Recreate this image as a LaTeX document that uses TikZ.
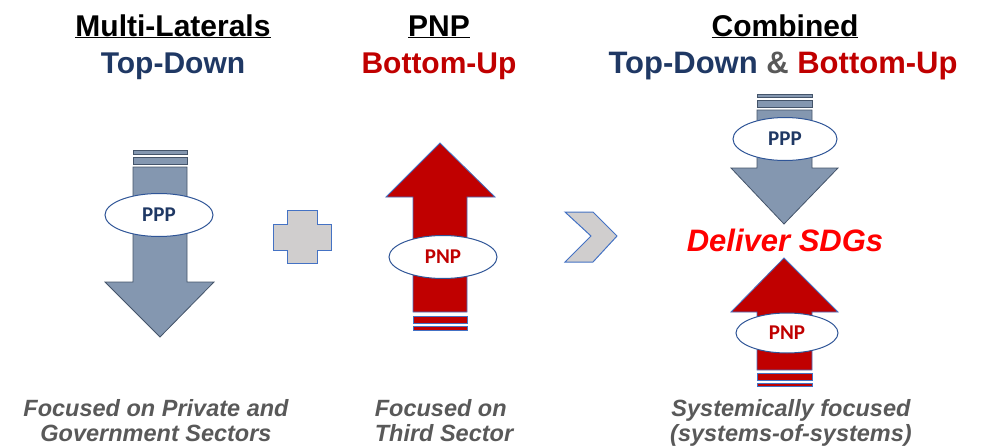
\documentclass[tikz,border=0pt]{standalone}
\usepackage{fontspec}
\setmainfont{Liberation Sans}
\newfontfamily\tagfont{Carlito}
\usetikzlibrary{shapes.geometric, positioning}
\definecolor{headblue}{RGB}{31, 56, 100}
\definecolor{headred}{RGB}{192, 0, 0}
\definecolor{arrowblue}{RGB}{132, 151, 176}
\definecolor{arrowblueline}{RGB}{68, 84, 106}
\definecolor{arrowred}{RGB}{192, 0, 0}
\definecolor{arrowredline}{RGB}{68, 114, 196}
\definecolor{tagline}{RGB}{47, 85, 151}
\definecolor{signgray}{RGB}{208, 206, 206}
\definecolor{notegray}{RGB}{89, 89, 89}
\definecolor{sdgred}{RGB}{255, 0, 0}
\begin{document}
\begin{tikzpicture}[x=1pt, y=-1pt,
  bluearrow/.style={fill=arrowblue, draw=arrowblueline, line width=0.8pt},
  redarrow/.style={fill=arrowred, draw=arrowredline, line width=0.8pt},
  signshape/.style={fill=signgray, draw=arrowredline, line width=1pt},
  tag/.style={ellipse, draw=tagline, fill=white, line width=1pt, minimum width=108pt, minimum height=43pt, inner sep=0pt, font=\tagfont\fontsize{21}{24}\selectfont\bfseries},
  head/.style={anchor=base, inner sep=0pt, font=\fontsize{30}{34}\selectfont\bfseries},
  note/.style={anchor=north, inner sep=0pt, text=notegray, font=\fontsize{23.5}{25}\selectfont\bfseries\itshape}]
\useasboundingbox (0,0) rectangle (986,447);

% headings
\node[head] (hml) at (173,36) {\underline{Multi-Laterals}};
\node[head, text=headblue] (hmltd) at (173,73) {Top-Down};
\node[head] (hpnp) at (439,36) {\underline{PNP}};
\node[head, text=headred] (hpnpbu) at (439,73) {Bottom-Up};
\node[head] (hcomb) at (785,36) {\underline{Combined}};
\node[head, font=\fontsize{31}{34}\selectfont\bfseries] (hcombtb) at (783,73) {\textcolor{headblue}{Top-Down} \textcolor{notegray}{\&} \textcolor{headred}{Bottom-Up}};

% top-down arrow (multi-laterals)
\draw[bluearrow] (133,150) rectangle (187,154);
\draw[bluearrow] (133,157) rectangle (187,164);
\draw[bluearrow] (133,167) -- (187,167) -- (187,282) -- (214,282) -- (160,337) -- (105,282) -- (133,282) -- cycle;
\node[tag, text=headblue] (ppp1) at (159,215) {PPP};

% plus sign
\draw[signshape] (287,210) -- (317,210) -- (317,224) -- (331,224) -- (331,250) -- (317,250) -- (317,263) -- (287,263) -- (287,250) -- (273,250) -- (273,224) -- (287,224) -- cycle;

% bottom-up arrow (PNP)
\draw[redarrow] (440,143) -- (495,197) -- (467,197) -- (467,312) -- (413,312) -- (413,197) -- (386,197) -- cycle;
\draw[redarrow] (413,316) rectangle (467,323);
\draw[redarrow] (413,326) rectangle (467,330);
\node[tag, text=headred] (pnp1) at (443,257) {PNP};

% chevron
\draw[signshape] (565,212) -- (593,212) -- (617,236) -- (593,262) -- (565,262) -- (591,236) -- cycle;

% combined: top-down part
\draw[bluearrow] (757,94) rectangle (812,97);
\draw[bluearrow] (757,100) rectangle (812,107);
\draw[bluearrow] (757,110) -- (812,110) -- (812,168) -- (838,168) -- (784,224) -- (731,168) -- (757,168) -- cycle;
\node[tag, text=headblue, minimum width=104pt] (ppp2) at (785,139) {PPP};

\node[anchor=base, inner sep=0pt, text=sdgred, font=\fontsize{31}{34}\selectfont\bfseries\itshape] (sdg) at (785,251) {Deliver SDGs};

% combined: bottom-up part
\draw[redarrow] (784,258) -- (838,312) -- (812,312) -- (812,370) -- (757,370) -- (757,312) -- (731,312) -- cycle;
\draw[redarrow] (757,373) rectangle (812,380);
\draw[redarrow] (757,383) rectangle (812,386);
\node[tag, text=headred, minimum width=102pt, minimum height=40pt] (pnp2) at (787,333) {PNP};

% captions
\node[note, align=center] (cml) at (156,399) {Focused on Private and\\Government Sectors};
\node[note, align=left] (cpnp) at (444,399) {Focused on\\Third Sector};
\node[note, align=center] (ccomb) at (791,399) {Systemically focused\\(systems-of-systems)};
\end{tikzpicture}
\end{document}
